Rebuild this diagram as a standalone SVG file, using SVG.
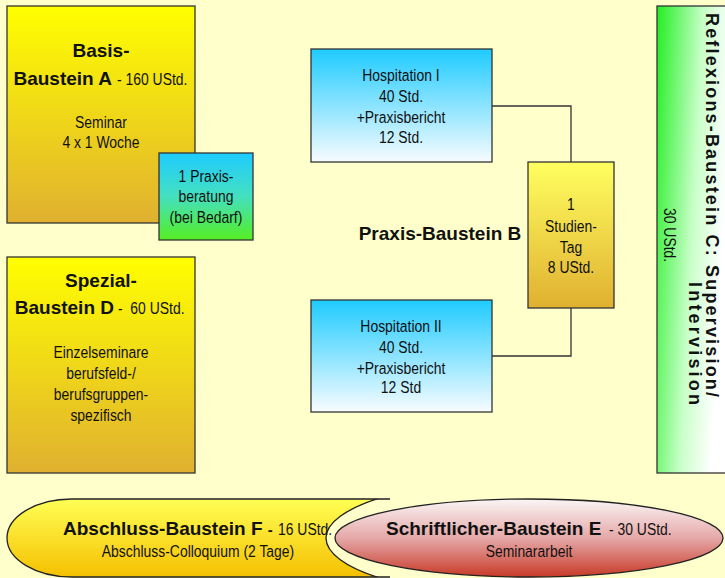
<svg xmlns="http://www.w3.org/2000/svg" width="725" height="578" viewBox="0 0 725 578">
<defs>
<linearGradient id="gYel" x1="0" y1="0" x2="0" y2="1"><stop offset="0" stop-color="#ffff00"/><stop offset="1" stop-color="#e0b030"/></linearGradient>
<linearGradient id="gYel2" x1="0" y1="0" x2="0" y2="1"><stop offset="0" stop-color="#ffff60"/><stop offset="1" stop-color="#e0b030"/></linearGradient>
<linearGradient id="gBlue" x1="0" y1="0" x2="0" y2="1"><stop offset="0" stop-color="#1ecbff"/><stop offset="1" stop-color="#f8fcff"/></linearGradient>
<linearGradient id="gCyanGreen" x1="0" y1="0" x2="0" y2="1"><stop offset="0" stop-color="#1ecbff"/><stop offset="0.5" stop-color="#44e0c0"/><stop offset="1" stop-color="#55ee22"/></linearGradient>
<linearGradient id="gGreen" x1="0" y1="0" x2="1" y2="0.35"><stop offset="0" stop-color="#22ee22"/><stop offset="0.6" stop-color="#c8ffc8"/><stop offset="1" stop-color="#ffffff"/></linearGradient>
<linearGradient id="gF" x1="0" y1="0" x2="0" y2="1"><stop offset="0" stop-color="#ffff55"/><stop offset="1" stop-color="#f5c000"/></linearGradient>
<linearGradient id="gRed" x1="0" y1="0" x2="0" y2="1"><stop offset="0" stop-color="#fbf5f5"/><stop offset="0.5" stop-color="#e5a8a8"/><stop offset="1" stop-color="#c83a28"/></linearGradient>
<clipPath id="clipF"><rect x="0" y="499" width="390" height="78"/></clipPath>
<style>
text{font-family:"Liberation Sans",Arial,sans-serif;fill:#111;}
.n text{font-size:17px;}
.c{text-anchor:middle;}
.e{text-anchor:end;}
.b{font-size:19px;font-weight:bold;}
.r{font-size:18px;font-weight:bold;}
.box{stroke:#333;stroke-width:1.3;}
.conn{fill:none;stroke:#333;stroke-width:1.3;}
</style>
</defs>
<rect width="725" height="578" fill="#ffffcc"/>

<g id="basis-a">
<rect class="box" x="7" y="6" width="188" height="217" fill="url(#gYel)"/>
<text class="b c" x="101" y="57">Basis-</text>
<text class="b e" x="112" y="85">Baustein A</text>
<g class="n" transform="scale(0.82,1)">
<text x="142.68" y="85">- 160 UStd.</text>
<text class="c" x="123.17" y="128">Seminar</text>
<text class="c" x="123.17" y="148">4 x 1 Woche</text>
</g>
</g>

<g id="praxisberatung">
<rect class="box" x="159" y="153" width="94" height="87" fill="url(#gCyanGreen)"/>
<g class="n" transform="scale(0.82,1)">
<text class="c" x="251.22" y="182">1 Praxis-</text>
<text class="c" x="251.22" y="202">beratung</text>
<text class="c" x="251.22" y="223">(bei Bedarf)</text>
</g>
</g>

<g id="spezial-d">
<rect class="box" x="7" y="257" width="188" height="216" fill="url(#gYel)"/>
<text class="b c" x="101" y="287">Spezial-</text>
<text class="b e" x="114" y="314">Baustein D</text>
<g class="n" transform="scale(0.82,1)">
<text x="143.9" y="314" xml:space="preserve">-  60 UStd.</text>
<text class="c" x="123.17" y="358">Einzelseminare</text>
<text class="c" x="123.17" y="379">berufsfeld-/</text>
<text class="c" x="123.17" y="400">berufsgruppen-</text>
<text class="c" x="123.17" y="421">spezifisch</text>
</g>
</g>

<g id="connectors">
<polyline class="conn" points="492,106 571,106 571,162"/>
<polyline class="conn" points="571,308 571,356 492,356"/>
</g>

<g id="hospitation-1">
<rect class="box" x="311" y="49" width="181" height="113" fill="url(#gBlue)"/>
<g class="n" transform="scale(0.82,1)">
<text class="c" x="489.02" y="81">Hospitation I</text>
<text class="c" x="489.02" y="102">40 Std.</text>
<text class="c" x="489.02" y="123">+Praxisbericht</text>
<text class="c" x="489.02" y="143">12 Std.</text>
</g>
</g>

<g id="hospitation-2">
<rect class="box" x="311" y="300" width="181" height="112" fill="url(#gBlue)"/>
<g class="n" transform="scale(0.82,1)">
<text class="c" x="489.02" y="332">Hospitation II</text>
<text class="c" x="489.02" y="353">40 Std.</text>
<text class="c" x="489.02" y="374">+Praxisbericht</text>
<text class="c" x="489.02" y="393">12 Std</text>
</g>
</g>

<g id="praxis-b">
<text class="b c" x="440" y="240">Praxis-Baustein B</text>
</g>

<g id="studientag">
<rect class="box" x="528" y="162" width="86" height="146" fill="url(#gYel2)"/>
<g class="n" transform="scale(0.82,1)">
<text class="c" x="696.34" y="210">1</text>
<text class="c" x="696.34" y="232">Studien-</text>
<text class="c" x="696.34" y="253">Tag</text>
<text class="c" x="696.34" y="273">8 UStd.</text>
</g>
</g>

<g id="reflexion-c">
<rect class="box" x="657" y="6" width="70" height="467" fill="url(#gGreen)"/>
<text class="r" transform="translate(706,13) rotate(90)" textLength="384" lengthAdjust="spacing">Reflexions-Baustein C: Supervision/</text>
<text class="r" transform="translate(689,282) rotate(90)" textLength="123" lengthAdjust="spacing">Intervision</text>
<text style="font-size:17px" transform="translate(664,208) rotate(90) scale(0.82,1)">30 UStd.</text>
</g>

<g id="abschluss-f">
<path d="M390,499 H72 A65,39 0 0 0 72,577 H390 Z" fill="url(#gF)"/>
<ellipse cx="529" cy="538" rx="203" ry="59" fill="#ffffcc" stroke="#222" stroke-width="1.3" clip-path="url(#clipF)"/>
<path d="M390,499 H72 A65,39 0 0 0 72,577 H390" fill="none" stroke="#222" stroke-width="1.3"/>
</g>

<g id="schriftlich-e">
<ellipse cx="529" cy="538" rx="194" ry="39" fill="url(#gRed)" stroke="#222" stroke-width="1.3"/>
<text class="b" x="386" y="535">Schriftlicher-Baustein E</text>
<g class="n" transform="scale(0.82,1)">
<text x="742.68" y="535">- 30 UStd.</text>
<text class="c" x="645.12" y="557">Seminararbeit</text>
</g>
</g>

<g id="abschluss-f-text">
<text class="b" x="63" y="535">Abschluss-Baustein F <tspan style="font-size:15px">-</tspan></text>
<g class="n" transform="scale(0.82,1)">
<text x="339.02" y="535">16 UStd.</text>
<text class="c" x="241.46" y="557">Abschluss-Colloquium (2 Tage)</text>
</g>
</g>
</svg>
